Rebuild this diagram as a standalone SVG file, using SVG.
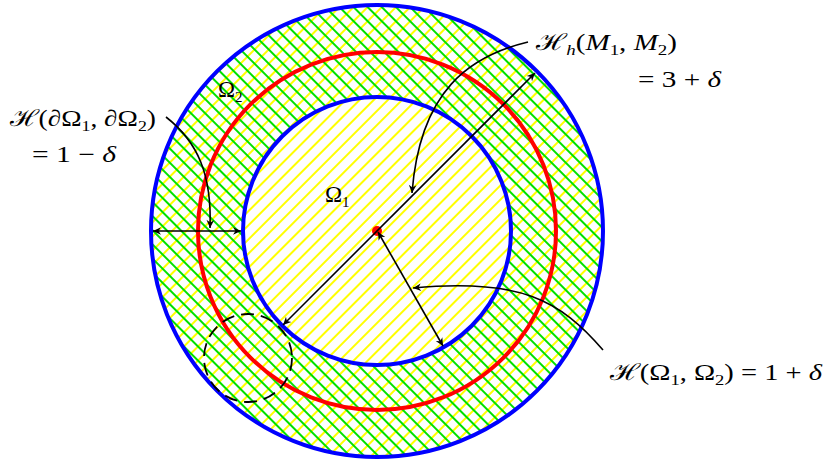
<svg xmlns="http://www.w3.org/2000/svg" width="828" height="464" viewBox="0 0 828 464">
<style>
.lbl{font-family:"Liberation Serif","DejaVu Serif",serif;font-size:23px;fill:#000}
.it{font-style:italic}
.sub{font-size:15px}
.conn{fill:none;stroke:#000;stroke-width:1.6}
</style>
<defs>
<pattern id="yel" patternUnits="userSpaceOnUse" width="10" height="10" patternTransform="rotate(45)">
<line x1="5" y1="-1" x2="5" y2="11" stroke="#ffff00" stroke-width="2"/>
</pattern>
<pattern id="grn" patternUnits="userSpaceOnUse" width="10" height="10" patternTransform="rotate(-45)">
<line x1="5" y1="-1" x2="5" y2="11" stroke="#00e000" stroke-width="2"/>
</pattern>
<marker id="ah" viewBox="-9 -5 10 10" refX="0" refY="0" markerWidth="10" markerHeight="10" markerUnits="userSpaceOnUse" orient="auto-start-reverse">
<path d="M0,0 L-8,-3.8 L-5.5,0 L-8,3.8 z" fill="#000"/>
</marker>
</defs>
<g id="regions">
<circle cx="377" cy="231" r="226" fill="url(#yel)"/>
<path d="M151,231 A226,226 0 1 0 603,231 A226,226 0 1 0 151,231 Z M243,231 A134,134 0 1 0 511,231 A134,134 0 1 0 243,231 Z" fill="url(#grn)" fill-rule="evenodd"/>
</g>
<g id="outer-circle"><circle cx="377" cy="231" r="226" fill="none" stroke="#0000ff" stroke-width="4"/></g>
<g id="red-circle"><circle cx="377" cy="231" r="179" fill="none" stroke="#ff0000" stroke-width="4"/></g>
<g id="inner-circle"><circle cx="377" cy="231" r="134" fill="none" stroke="#0000ff" stroke-width="4"/></g>
<g id="dashed-circle"><circle cx="248" cy="358" r="44" fill="none" stroke="#000" stroke-width="1.8" stroke-dasharray="13,7"/></g>
<g id="center"><circle cx="377" cy="231" r="5" fill="#ff0000"/></g>
<g id="connectors">
<line class="conn" x1="283" y1="325" x2="535" y2="73" marker-start="url(#ah)" marker-end="url(#ah)"/>
<line class="conn" x1="378" y1="232" x2="443" y2="346" marker-start="url(#ah)" marker-end="url(#ah)"/>
<line class="conn" x1="153" y1="231" x2="241" y2="231" marker-start="url(#ah)" marker-end="url(#ah)"/>
<path class="conn" d="M528,42 C470,56 420,90 412,193" marker-end="url(#ah)"/>
<path class="conn" d="M166,117 C198,142 212,175 210,228" marker-end="url(#ah)"/>
<path class="conn" d="M603,350 C560,300 520,278 413,288" marker-end="url(#ah)"/>
</g>
<g id="label-omega1"><text class="lbl" x="325" y="202">Ω<tspan class="sub" dy="5">1</tspan></text></g>
<g id="label-omega2"><text class="lbl" x="218" y="97">Ω<tspan class="sub" dy="5">2</tspan></text></g>
<g id="label-hh">
<text class="lbl" x="536" y="50" textLength="141" lengthAdjust="spacingAndGlyphs">ℋ<tspan class="sub it" dy="5">h</tspan><tspan dy="-5">(</tspan><tspan class="it">M</tspan><tspan class="sub" dy="5">1</tspan><tspan dy="-5">, </tspan><tspan class="it">M</tspan><tspan class="sub" dy="5">2</tspan><tspan dy="-5">)</tspan></text>
<text class="lbl" x="638" y="87" textLength="83" lengthAdjust="spacingAndGlyphs">= 3 + <tspan class="it">δ</tspan></text>
</g>
<g id="label-boundary">
<text class="lbl" x="10" y="126" textLength="146" lengthAdjust="spacingAndGlyphs">ℋ(∂Ω<tspan class="sub" dy="5">1</tspan><tspan dy="-5">, ∂Ω</tspan><tspan class="sub" dy="5">2</tspan><tspan dy="-5">)</tspan></text>
<text class="lbl" x="32" y="162" textLength="84" lengthAdjust="spacingAndGlyphs">= 1 − <tspan class="it">δ</tspan></text>
</g>
<g id="label-h12">
<text class="lbl" x="610" y="380" textLength="212" lengthAdjust="spacingAndGlyphs">ℋ(Ω<tspan class="sub" dy="5">1</tspan><tspan dy="-5">, Ω</tspan><tspan class="sub" dy="5">2</tspan><tspan dy="-5">) = 1 + </tspan><tspan class="it">δ</tspan></text>
</g>
</svg>
